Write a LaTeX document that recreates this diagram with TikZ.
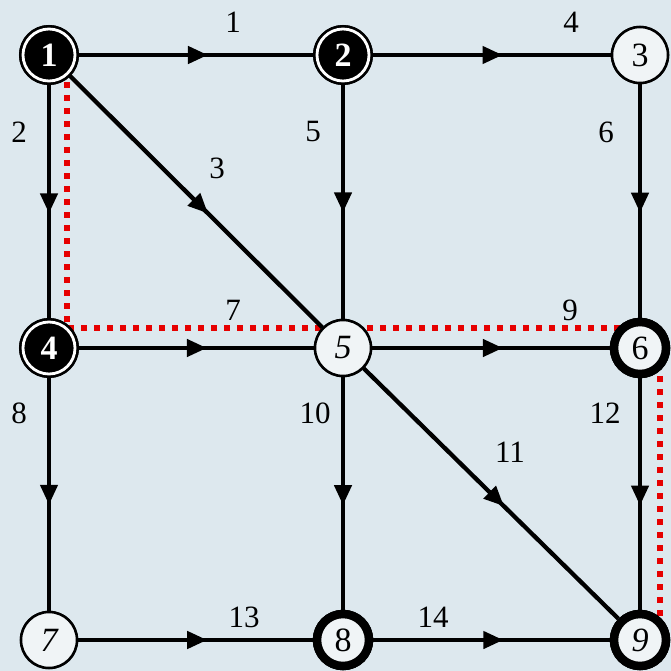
\documentclass[tikz,border=0pt]{standalone}
\usepackage{fontspec}
\setmainfont{Liberation Serif}
\usetikzlibrary{arrows.meta,decorations.markings}
\definecolor{bg}{RGB}{221,232,238}
\definecolor{nodefill}{RGB}{240,244,246}
\definecolor{pathred}{RGB}{230,0,0}
\begin{document}
\begin{tikzpicture}[x=1pt,y=-1pt,
  vtx/.style={circle,minimum size=56pt,inner sep=0pt,font=\fontsize{34}{38}\selectfont},
  plain/.style={vtx,draw=black,line width=2.5pt,fill=nodefill},
  heavy/.style={vtx,draw=black,line width=8.5pt,fill=nodefill,minimum size=52pt},
  src/.style={vtx,draw=black,double=white,double distance=2.8pt,line width=2.6pt,fill=black,text=white,minimum size=52pt,font=\fontsize{34}{38}\selectfont\bfseries},
  edge/.style={line width=4.3pt,postaction={decorate},decoration={markings,mark=at position 0.55 with {\arrow{Triangle[length=20pt,width=17pt]}}}},
  elab/.style={font=\fontsize{31}{35}\selectfont,inner sep=0pt},
  redpath/.style={pathred,line width=5.5pt,dash pattern=on 6pt off 7pt}]
\fill[bg] (0,0) rectangle (671,671);
\useasboundingbox (0,0) rectangle (671,671);
% red dotted route
\coordinate (ra) at (67,82);
\coordinate (rb) at (67,328);
\coordinate (rc) at (622,328);
\coordinate (rd) at (660,376);
\coordinate (re) at (660,616);
\draw[redpath] (ra) -- (rb) -- (rc);
\draw[redpath] (rd) -- (re);
% nodes
\node[src] (n1) at (49,55) {1};
\node[src] (n2) at (343,55) {2};
\node[plain] (n3) at (640,55) {3};
\node[src] (n4) at (49,348) {4};
\node[plain] (n5) at (343,348) {\itshape 5};
\node[heavy] (n6) at (640,348) {6};
\node[plain] (n7) at (49,640) {\itshape 7};
\node[heavy] (n8) at (343,640) {8};
\node[heavy] (n9) at (640,640) {\itshape 9};
% edges
\draw[edge] (n1) -- (n2);
\draw[edge] (n1) -- (n4);
\draw[edge] (n1) -- (n5);
\draw[edge] (n2) -- (n3);
\draw[edge] (n2) -- (n5);
\draw[edge] (n3) -- (n6);
\draw[edge] (n4) -- (n5);
\draw[edge] (n4) -- (n7);
\draw[edge] (n5) -- (n6);
\draw[edge] (n5) -- (n8);
\draw[edge] (n5) -- (n9);
\draw[edge] (n6) -- (n9);
\draw[edge] (n7) -- (n8);
\draw[edge] (n8) -- (n9);
% redraw nodes on top
\node[src] at (n1) {1};
\node[src] at (n2) {2};
\node[plain] at (n3) {3};
\node[src] at (n4) {4};
\node[plain] at (n5) {\itshape 5};
\node[heavy] at (n6) {6};
\node[plain] at (n7) {\itshape 7};
\node[heavy] at (n8) {8};
\node[heavy] at (n9) {\itshape 9};
% edge labels
\node[elab] (l1) at (233,22) {1};
\node[elab] (l4) at (571,22) {4};
\node[elab] (l2) at (19,132) {2};
\node[elab] (l5) at (313,132) {5};
\node[elab] (l6) at (606,132) {6};
\node[elab] (l3) at (217,168) {3};
\node[elab] (l7) at (233,310) {7};
\node[elab] (l9) at (570,310) {9};
\node[elab] (l8) at (19,413) {8};
\node[elab] (l10) at (315,413) {10};
\node[elab] (l12) at (605,413) {12};
\node[elab] (l11) at (510,452) {11};
\node[elab] (l13) at (244,617) {13};
\node[elab] (l14) at (433,617) {14};
\end{tikzpicture}
\end{document}
